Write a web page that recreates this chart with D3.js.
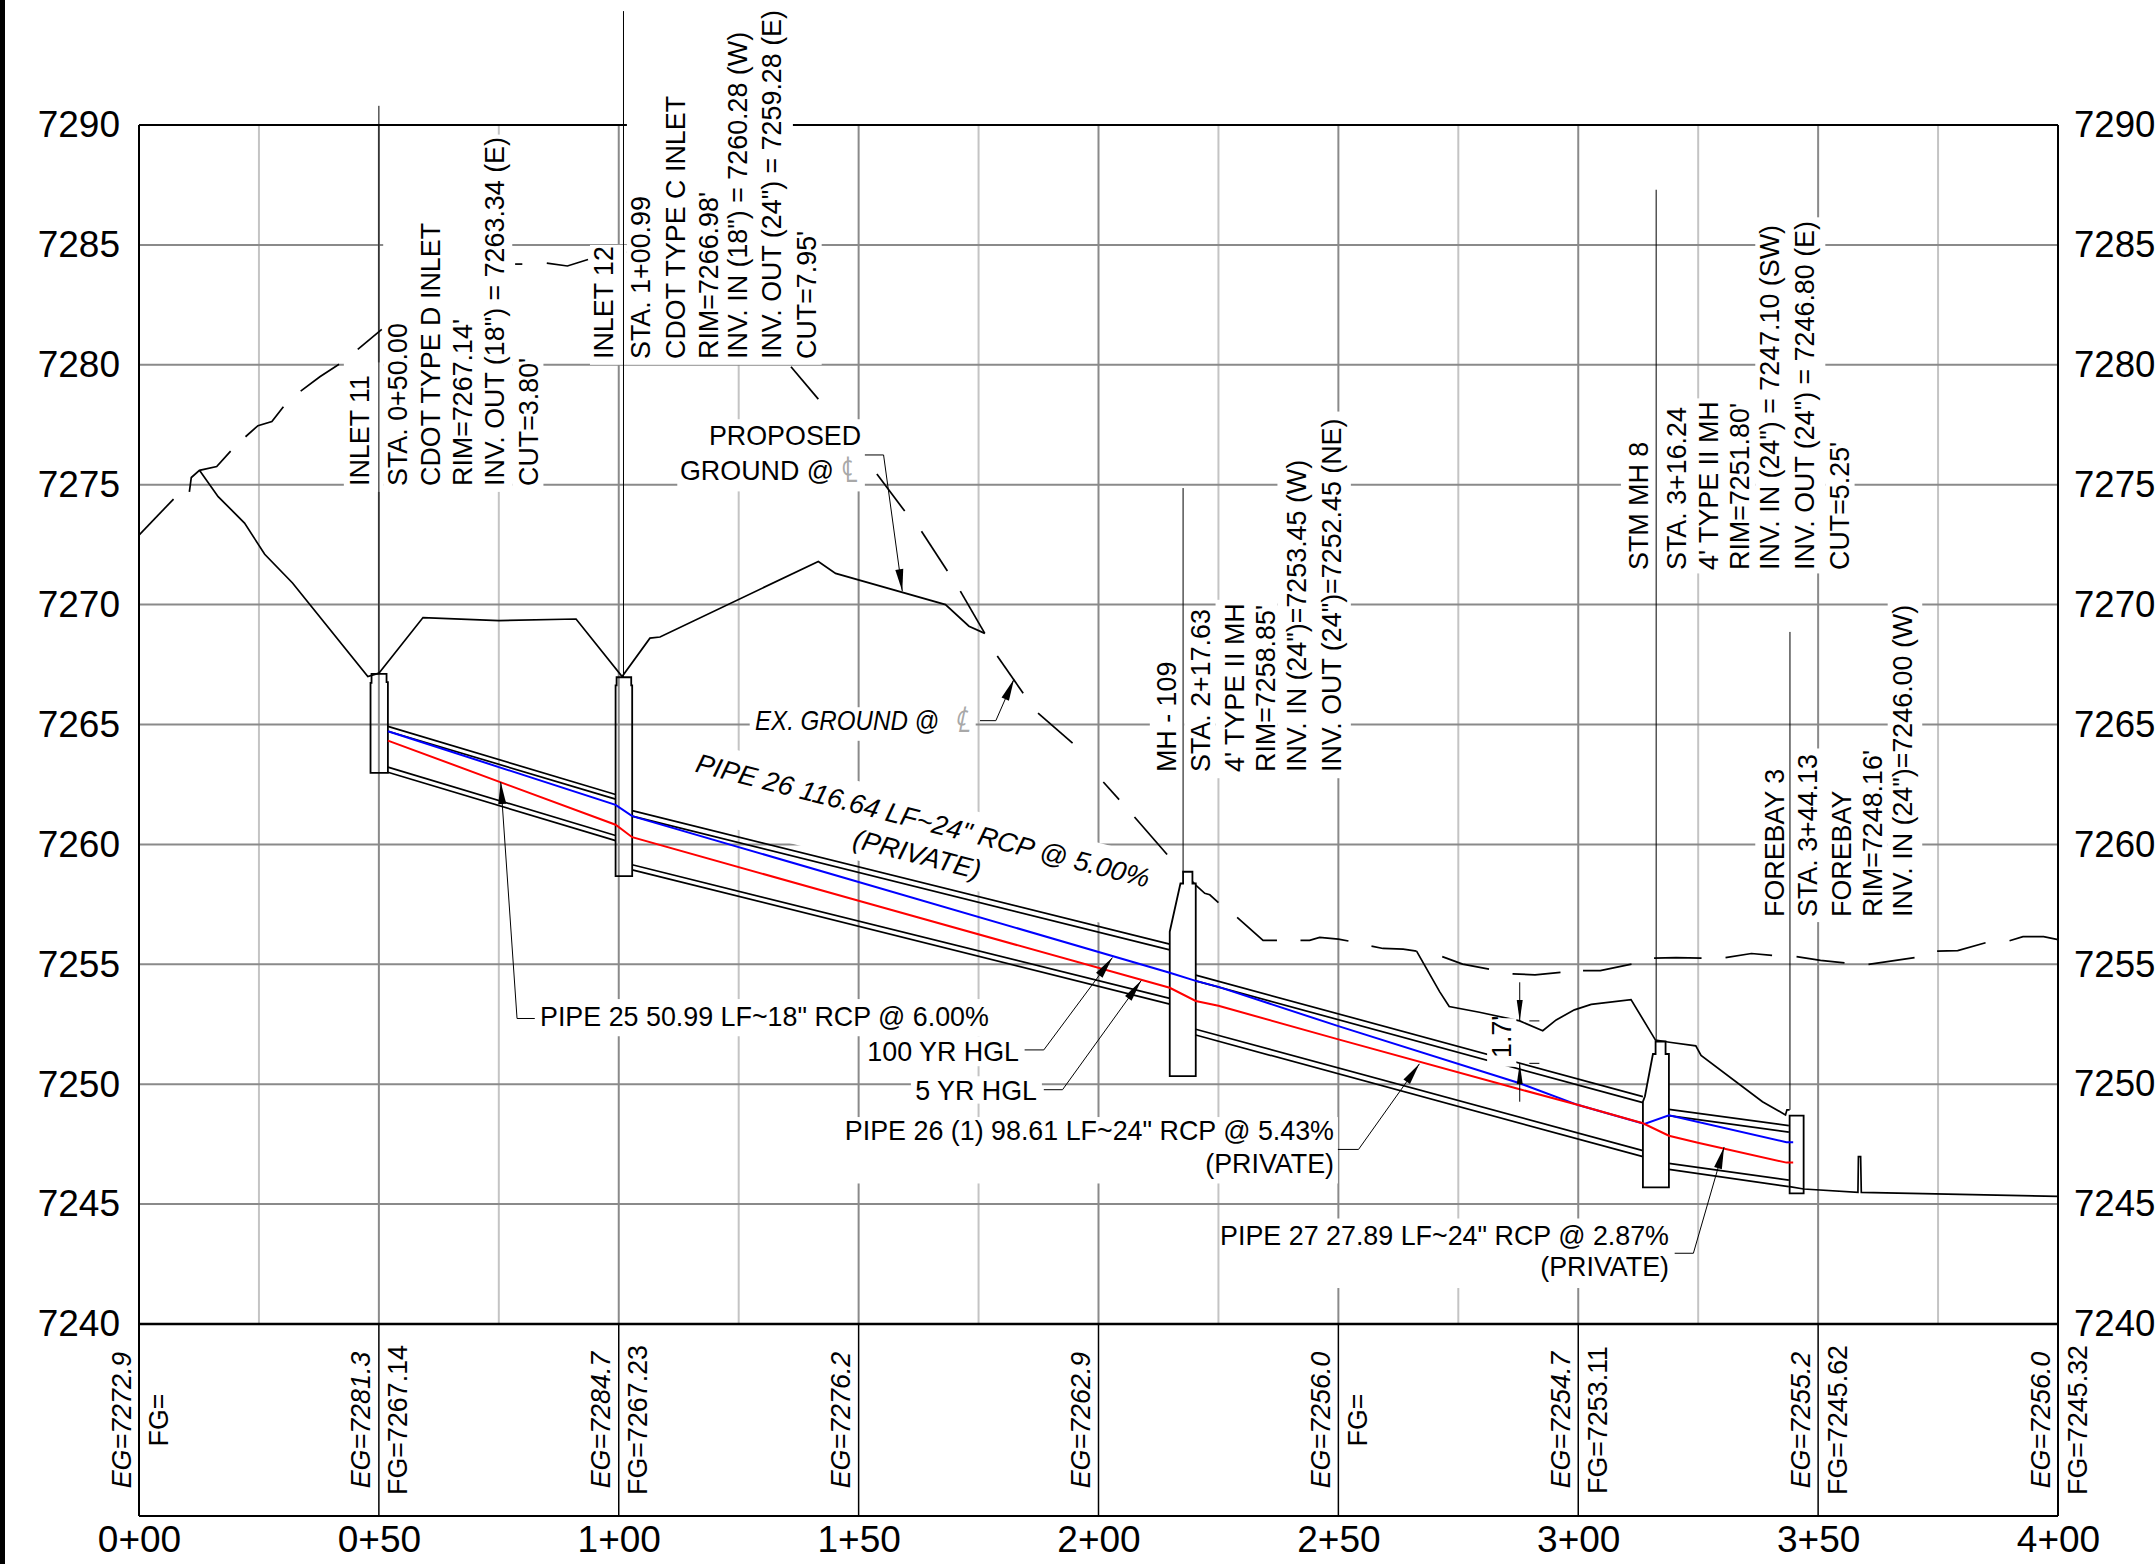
<!DOCTYPE html>
<html>
<head>
<meta charset="utf-8">
<title>Storm profile</title>
<script src="https://cdn.jsdelivr.net/npm/d3@7"></script>
<style>
  html, body { margin: 0; padding: 0; background: #fff; }
  svg { display: block; }
  text { font-family: "Liberation Sans", Arial, sans-serif; fill: #000; }
</style>
</head>
<body>
<svg></svg>
<script>
// axis values
const elevTicks = [7240, 7245, 7250, 7255, 7260, 7265, 7270, 7275, 7280, 7285, 7290];
const stationTicks = [0, 50, 100, 150, 200, 250, 300, 350, 400];
const stationMinor = [25, 75, 125, 175, 225, 275, 325, 375];

// station readouts under the profile, null where the band shows no FG note
const egLabels = ['7272.9', '7281.3', '7284.7', '7276.2', '7262.9', '7256.0', '7254.7', '7255.2', '7256.0'];
const fgLabels = ['', '7267.14', '7267.23', null, null, '', '7253.11', '7245.62', '7245.32'];

// existing ground, one list per visible dash, [station, elevation]
const exGroundRuns = [
  [[0,7272.9],[7.2,7274.4]],
  [[10.5,7274.7],[10.9,7275.3],[12.6,7275.6],[16.2,7275.76],[19.1,7276.4]],
  [[22.2,7277],[24.8,7277.46],[27.7,7277.63],[30.1,7278.25]],
  [[33.7,7278.9],[37.7,7279.5],[41.7,7280.02]],
  [[45.6,7280.64],[50.6,7281.48]],
  [[78.4,7284.2],[79.9,7284.2]],
  [[85,7284.24],[89.3,7284.12],[93.6,7284.39]],
  [[100,7284.66],[101.7,7284.7]],
  [[135.9,7279.92],[141.6,7278.57]],
  [[153.8,7275.45],[159.6,7273.9]],
  [[163.1,7273.06],[168.5,7271.4]],
  [[171.2,7270.56],[176.3,7268.8]],
  [[178.9,7267.86],[184.3,7266.3]],
  [[187.4,7265.47],[194.6,7264.22]],
  [[201,7262.6],[204.3,7261.87]],
  [[207.5,7261.14],[214.3,7259.58]],
  [[217.63,7258.86],[220.27,7258.3],[222.15,7257.96],[223.2,7257.9],[225,7257.57]],
  [[228.9,7256.96],[234.3,7256],[237.2,7256]],
  [[242.1,7256],[244,7256],[246.1,7256.12],[250,7256.05],[252.1,7255.97]],
  [[256.9,7255.76],[259.3,7255.66],[263.5,7255.63],[266.3,7255.55]],
  [[271.65,7255.32],[275.9,7255.01],[281.4,7254.8]],
  [[286.3,7254.6],[291,7254.56],[296.3,7254.66]],
  [[301,7254.74],[304.6,7254.74],[311.1,7255.01]],
  [[315.8,7255.26],[320.4,7255.28],[325.7,7255.26]],
  [[330.7,7255.28],[336.1,7255.45],[340.4,7255.37]],
  [[345.5,7255.32],[350.5,7255.16],[355.5,7255.06]],
  [[360.5,7255],[370.1,7255.28]],
  [[374.8,7255.55],[379.1,7255.57],[384.9,7255.9]],
  [[389.9,7255.98],[392.7,7256.15],[397,7256.15],[400,7256.03]]
];

// proposed ground
const proposedWest = [[12.6,7275.6],[16.5,7274.5],[19,7274],[22,7273.4],[26.2,7272.1],[32,7270.9],[47.7,7267],[50,7267.14],
  [59.2,7269.46],[75,7269.33],[91.1,7269.4],[100.7,7267],[106.5,7268.6],[108.6,7268.65],[141.6,7271.8],[145.2,7271.3],
  [168.1,7270],[173,7269.1],[176.3,7268.8]];
const proposedEast = [[266.3,7255.55],[271.1,7253.86],[273.1,7253.24],[279.4,7253],[287.8,7252.64],[292.6,7252.23],[295.4,7252.68],
  [299.2,7253.1],[302.7,7253.33],[311,7253.53],[316.1,7251.84],[319,7251.75],[324.5,7251.6],[325.6,7251.2],[338.4,7249.27],
  [343.2,7248.72],[343.5,7248.93],[344.06,7248.93]];
const outfallGround = [[344.06,7245.73],[346.98,7245.63],[358.3,7245.49],[358.4,7246.98],[358.86,7246.98],[359,7245.49],[400,7245.32]];

// hydraulic grade lines
const hgl100 = [[51.88,7264.72],[99.34,7261.65],[102.8,7261.18],[150,7258.43],[214.85,7254.65],[220.27,7254.31],[225,7254.06],
  [250,7252.42],[287.8,7250.04],[300,7249.13],[313.8,7248.34],[318.9,7248.7],[343.4,7247.58],[344.8,7247.58]];
const hgl5 = [[51.88,7264.33],[99.34,7260.82],[102.8,7260.3],[150,7257.65],[214.85,7254.02],[220.27,7253.47],[225,7253.27],
  [250,7251.87],[287.8,7249.79],[300,7249.13],[313.48,7248.37],[318.9,7247.85],[324.95,7247.56],[343.4,7246.73],[344.8,7246.73]];

// pipe walls
const pipe25 = [[[51.88,7264.92],[99.34,7262.08]],[[51.88,7264.72],[99.34,7261.89]],[[51.88,7263.22],[99.34,7260.37]],[[51.88,7263.01],[99.34,7260.16]]];
const pipe26 = [[[102.8,7261.41],[214.85,7255.84]],[[102.8,7261.18],[214.85,7255.6]],[[102.8,7259.15],[214.85,7253.58]],[[102.8,7258.94],[214.85,7253.34]]];
const pipe26b = [[[220.27,7254.55],[313.48,7249.48]],[[220.27,7254.31],[313.48,7249.23]],[[220.27,7252.29],[313.48,7247.23]],[[220.27,7252.05],[313.48,7246.98]]];
const pipe27 = [[[318.9,7248.95],[343.9,7248.27]],[[318.9,7248.69],[343.9,7248]],[[318.9,7246.7],[343.9,7246]],[[318.9,7246.45],[343.9,7245.73]]];

// structures
const inlet11 = [[48.26,7262.98],[48.26,7266.74],[48.47,7266.74],[48.47,7267.11],[51.6,7267.11],[51.6,7266.77],[51.88,7266.77],[51.88,7262.98]];
const inlet12 = [[99.34,7258.68],[99.34,7266.63],[99.55,7266.63],[99.55,7266.97],[102.6,7266.97],[102.6,7266.63],[102.8,7266.63],[102.8,7258.68]];
const mh109 = [[214.85,7250.34],[214.85,7256.36],[217.08,7258.37],[217.63,7258.37],[217.63,7258.86],[219.58,7258.86],[219.58,7258.37],[220.27,7258.37],[220.27,7250.34]];
const mh8 = [[313.48,7245.7],[313.48,7249.27],[313.9,7249.5],[315.57,7251.26],[316.12,7251.26],[316.12,7251.78],[318.2,7251.78],[318.2,7251.26],[318.9,7251.26],[318.9,7245.7]];
const forebay = [[344.06,7248.69],[346.98,7248.69],[346.98,7245.45],[344.06,7245.45]];

// structure leader lines, station and top elevation
const leaderStations = [50, 100.99, 217.63, 316.24, 344.13];
const leaderTops = [7290.8, 7294.75, 7274.86, 7287.3, 7268.86];
const leaderBottoms = [7267.11, 7266.97, 7258.86, 7251.78, 7248.93];

// callout texts
const inlet11Text = ['INLET 11', 'STA. 0+50.00', 'CDOT TYPE D INLET', "RIM=7267.14'", 'INV. OUT (18") = 7263.34 (E)', "CUT=3.80'"];
const inlet12Text = ['INLET 12', 'STA. 1+00.99', 'CDOT TYPE C INLET', "RIM=7266.98'", 'INV. IN (18") = 7260.28 (W)', 'INV. OUT (24") = 7259.28 (E)', "CUT=7.95'"];
const mh109Text = ['MH - 109', 'STA. 2+17.63', "4' TYPE II MH", "RIM=7258.85'", 'INV. IN (24")=7253.45 (W)', 'INV. OUT (24")=7252.45 (NE)'];
const mh8Text = ['STM MH 8', 'STA. 3+16.24', "4' TYPE II MH", "RIM=7251.80'", 'INV. IN (24") = 7247.10 (SW)', 'INV. OUT (24") = 7246.80 (E)', "CUT=5.25'"];
const forebayText = ['FOREBAY 3', 'STA. 3+44.13', 'FOREBAY', "RIM=7248.16'", 'INV. IN (24")=7246.00 (W)'];

const width = 2156, height = 1564;
const plotL = 139, plotR = 2058, plotT = 125, plotB = 1324, bandB = 1516;

const svg = d3.select('svg').attr('width', width).attr('height', height).attr('viewBox', `0 0 ${width} ${height}`);

const x = d3.scaleLinear().domain([0, 400]).range([plotL, plotR]);
const y = d3.scaleLinear().domain([7240, 7290]).range([plotB, plotT]);
const line = d3.line().x((d) => x(d[0])).y((d) => y(d[1]));

const drawLine = (pts, color, w) =>
  svg.append('path').attr('d', line(pts)).attr('fill', 'none').attr('stroke', color).attr('stroke-width', w);

// sheet edge
svg.append('rect').attr('x', 0).attr('y', 0).attr('width', 5).attr('height', height).attr('fill', '#000');

// grid
svg.append('g').selectAll('line').data(stationMinor).join('line')
  .attr('x1', (d) => x(d)).attr('x2', (d) => x(d)).attr('y1', plotT).attr('y2', plotB)
  .attr('stroke', '#c4c4c4').attr('stroke-width', 2);
svg.append('g').selectAll('line').data(stationTicks).join('line')
  .attr('x1', (d) => x(d)).attr('x2', (d) => x(d)).attr('y1', plotT).attr('y2', plotB)
  .attr('stroke', '#8a8a8a').attr('stroke-width', 2);
svg.append('g').selectAll('line').data(elevTicks).join('line')
  .attr('x1', plotL).attr('x2', plotR).attr('y1', (d) => y(d)).attr('y2', (d) => y(d))
  .attr('stroke', '#8a8a8a').attr('stroke-width', 2);

// frame
svg.append('line').attr('x1', plotL).attr('x2', plotR).attr('y1', plotT).attr('y2', plotT).attr('stroke', '#000').attr('stroke-width', 2.2);
svg.append('line').attr('x1', plotL).attr('x2', plotL).attr('y1', plotT).attr('y2', bandB).attr('stroke', '#000').attr('stroke-width', 2);
svg.append('line').attr('x1', plotR).attr('x2', plotR).attr('y1', plotT).attr('y2', bandB).attr('stroke', '#000').attr('stroke-width', 2);
svg.append('line').attr('x1', plotL).attr('x2', plotR).attr('y1', plotB).attr('y2', plotB).attr('stroke', '#000').attr('stroke-width', 2.6);
svg.append('line').attr('x1', plotL).attr('x2', plotR).attr('y1', bandB).attr('y2', bandB).attr('stroke', '#000').attr('stroke-width', 2.2);
svg.append('g').selectAll('line').data(stationTicks).join('line')
  .attr('x1', (d) => x(d)).attr('x2', (d) => x(d)).attr('y1', plotB).attr('y2', bandB)
  .attr('stroke', '#000').attr('stroke-width', 1.5);

// existing ground, sits under the text wipeouts
exGroundRuns.forEach((run) => drawLine(run, '#000', 1.7));

// text wipeouts: [sta0, sta1, elevTop, elevBottom]
const wipeouts = [
  [42.7,50.9,7280.1,7274.7],[50.9,77.8,7289.6,7274.7],[77.8,84.3,7280.1,7274.7],
  [94,101.7,7285,7280],[101.7,136.3,7295.2,7280],[136.3,142.3,7285.4,7280],
  [118.7,151.3,7277.73,7276.28],[112.2,151.3,7276.28,7274.72],
  [127.3,174.4,7265.72,7264.32],
  [82.8,177.4,7253.55,7252],[151.3,184.2,7252,7250.75],[160.9,188.2,7250.33,7249.19],
  [146.6,249.9,7248.63,7245.86],[225.4,319.7,7244.4,7241.5],
  [210.7,217.9,7267.65,7262.76],[217.9,224.4,7269.7,7262.76],[224.4,237.3,7270.2,7262.76],[237.3,252.6,7278.05,7262.76],
  [308.9,336.9,7276.7,7271.3],[317.5,336.9,7278.6,7276.7],[336.9,351.5,7286.15,7271.3],[351.5,357.6,7276.7,7271.3],
  [336.9,364.5,7264,7256.76],[364.5,371.7,7270.15,7256.76]
];
svg.append('g').selectAll('rect').data(wipeouts).join('rect')
  .attr('x', (d) => x(d[0])).attr('width', (d) => x(d[1]) - x(d[0]))
  .attr('y', (d) => y(d[2])).attr('height', (d) => y(d[3]) - y(d[2]))
  .attr('fill', '#fff');
// sloped wipeout under the pipe 26 note
svg.append('rect').attr('x', -240).attr('y', -22).attr('width', 480).attr('height', 77).attr('fill', '#fff')
  .attr('transform', `translate(${x(163.4)},${y(7261)}) rotate(14.4)`);

// ground lines
drawLine(proposedWest, '#000', 1.7);
drawLine(proposedEast, '#000', 1.7);
drawLine(outfallGround, '#000', 1.7);

// pipes
[pipe25, pipe26, pipe26b, pipe27].forEach((pipe) => pipe.forEach((wall) => drawLine(wall, '#000', 1.7)));

// gap cut for the 1.7' dimension
svg.append('rect').attr('x', x(281)).attr('width', x(287.1) - x(281))
  .attr('y', y(7252.75)).attr('height', y(7250.73) - y(7252.75)).attr('fill', '#fff');

// structures
svg.append('path').attr('d', line(inlet11) + 'Z').attr('fill', 'none').attr('stroke', '#000').attr('stroke-width', 1.8);
svg.append('path').attr('d', line(inlet12) + 'Z').attr('fill', 'none').attr('stroke', '#000').attr('stroke-width', 1.8);
svg.append('path').attr('d', line(mh109) + 'Z').attr('fill', '#fff').attr('stroke', '#000').attr('stroke-width', 1.8);
svg.append('path').attr('d', line(mh8) + 'Z').attr('fill', '#fff').attr('stroke', '#000').attr('stroke-width', 1.8);
svg.append('path').attr('d', line(forebay) + 'Z').attr('fill', '#fff').attr('stroke', '#000').attr('stroke-width', 1.8);
drawLine(outfallGround.slice(0, 2), '#000', 1.7);

// hgl
drawLine(hgl100, '#0000ff', 2);
drawLine(hgl5, '#ff0000', 2);

// structure leaders
svg.append('g').selectAll('line').data(leaderStations).join('line')
  .attr('x1', (d) => x(d)).attr('x2', (d) => x(d))
  .attr('y1', (d, i) => y(leaderTops[i])).attr('y2', (d, i) => y(leaderBottoms[i]))
  .attr('stroke', '#000').attr('stroke-width', 1);

// callout leaders: polyline ends in an arrow head at its last point
function arrowLeader(pts, len = 22, half = 4) {
  drawLine(pts, '#000', 1);
  const tip = pts[pts.length - 1], from = pts[pts.length - 2];
  const tx = x(tip[0]), ty = y(tip[1]);
  const ang = Math.atan2(y(from[1]) - ty, x(from[0]) - tx);
  const bx = tx + len * Math.cos(ang), by = ty + len * Math.sin(ang);
  const nx = -Math.sin(ang) * half, ny = Math.cos(ang) * half;
  svg.append('path')
    .attr('d', `M${tx},${ty}L${bx + nx},${by + ny}L${bx - nx},${by - ny}Z`)
    .attr('fill', '#000');
}
arrowLeader([[151.3,7276.24],[155.2,7276.24],[159.1,7270.56]]);
arrowLeader([[175.3,7265.16],[178.6,7265.16],[182.4,7266.9]]);
arrowLeader([[82.5,7252.74],[78.8,7252.74],[75.4,7262.6]]);
arrowLeader([[184.6,7251.43],[188.6,7251.43],[202.9,7255.28]]);
arrowLeader([[188.6,7249.77],[192.5,7249.77],[208.9,7254.32]]);
arrowLeader([[249.9,7247.28],[254.2,7247.28],[266.9,7250.85]]);
arrowLeader([[320.1,7242.95],[324,7242.95],[330.4,7247.38]]);

// 1.7' dimension
arrowLeader([[287.8,7254.25],[287.8,7252.64]], 21, 3);
arrowLeader([[287.8,7249.27],[287.8,7250.87]], 21, 3);
drawLine([[289.8,7252.64],[291.9,7252.64]], '#000', 1);
drawLine([[289.8,7250.87],[291.9,7250.87]], '#000', 1);

// axes
const axisFont = (size) => (g) => {
  g.select('.domain').remove();
  g.selectAll('.tick line').remove();
  g.attr('font-family', null).attr('font-size', null);
  g.selectAll('text').attr('font-size', size).attr('fill', '#000');
};
svg.append('g').attr('transform', `translate(${plotL},0)`)
  .call(d3.axisLeft(y).tickValues(elevTicks).tickFormat(d3.format('d')).tickSize(0).tickPadding(19)).call(axisFont(37));
svg.append('g').attr('transform', `translate(${plotR},0)`)
  .call(d3.axisRight(y).tickValues(elevTicks).tickFormat(d3.format('d')).tickSize(0).tickPadding(16)).call(axisFont(36.6));
const stationFormat = (d) => `${Math.floor(d / 100)}+${String(d % 100).padStart(2, '0')}`;
svg.append('g').attr('transform', `translate(0,${bandB})`)
  .call(d3.axisBottom(x).tickValues(stationTicks).tickFormat(stationFormat).tickSize(0).tickPadding(10)).call(axisFont(37));

// text helpers
const fs = 26.85;
function vText(px, py, str, anchor = 'start', italic = false) {
  svg.append('text').attr('transform', `translate(${px},${py}) rotate(-90)`)
    .attr('font-size', fs).attr('text-anchor', anchor)
    .attr('font-style', italic ? 'italic' : null).text(str);
}
function hText(px, py, str, anchor = 'start', italic = false) {
  return svg.append('text').attr('x', px).attr('y', py)
    .attr('font-size', fs).attr('text-anchor', anchor)
    .attr('font-style', italic ? 'italic' : null).text(str);
}

// structure notes
[
  [inlet11Text, [368.5, 406.5, 439.5, 471.5, 503.5, 537.5], 486],
  [inlet12Text, [612.5, 650, 684.5, 717.6, 746.5, 780.5, 815.5], 359],
  [mh109Text, [1175.5, 1210, 1244, 1275, 1305.5, 1340.5], 772],
  [mh8Text, [1648, 1685.5, 1718, 1749, 1778.5, 1814, 1848.5], 570],
  [forebayText, [1783.5, 1816.5, 1850.5, 1881.5, 1911.5], 917]
].forEach(([lines, xs, bottom]) => lines.forEach((s, i) => vText(xs[i], bottom, s)));

// band readouts
const bandMid = 1420;
stationTicks.forEach((d, i) => {
  vText(x(d) - 8.5, bandMid, 'EG=' + egLabels[i], 'middle', true);
  if (fgLabels[i] !== null) vText(x(d) + 28.5, bandMid, 'FG=' + fgLabels[i], 'middle');
});

// notes
hText(785, 445, 'PROPOSED', 'middle');
hText(834, 480, 'GROUND @', 'end');
hText(755, 730, 'EX. GROUND @', 'start', true).attr('font-size', 27.5)
  .attr('textLength', 184).attr('lengthAdjust', 'spacingAndGlyphs');

// centre line marks next to the ground notes
const centreMark = (px, py, skew) =>
  svg.append('text').attr('transform', `translate(${px},${py}) skewX(${skew}) scale(0.8,1.05)`)
    .attr('text-anchor', 'middle').attr('font-size', 34).attr('font-weight', 200)
    .style('font-family', '"DejaVu Sans"').style('fill', '#a8a8a8').text('\u2104');
centreMark(850, 482, 0);
centreMark(962, 732, -12);

hText(540, 1025.6, 'PIPE 25 50.99 LF~18" RCP @ 6.00%');
hText(1019, 1060.6, '100 YR HGL', 'end');
hText(1037, 1099.6, '5 YR HGL', 'end');
hText(1334, 1139.7, 'PIPE 26 (1) 98.61 LF~24" RCP @ 5.43%', 'end');
hText(1334, 1172.8, '(PRIVATE)', 'end');
hText(1669, 1244.6, 'PIPE 27 27.89 LF~24" RCP @ 2.87%', 'end');
hText(1669, 1275.6, '(PRIVATE)', 'end');

// sloped pipe note
svg.append('text').attr('transform', `translate(${x(163.4)},${y(7261)}) rotate(14.4)`)
  .attr('text-anchor', 'middle').attr('dy', '0.35em').attr('font-size', 27.2).attr('font-style', 'italic')
  .text('PIPE 26 116.64 LF~24" RCP @ 5.00%');
svg.append('text').attr('transform', `translate(${x(162.2)},${y(7259.6)}) rotate(14.4)`)
  .attr('text-anchor', 'middle').attr('dy', '0.35em').attr('font-size', 27.2).attr('font-style', 'italic')
  .text('(PRIVATE)');

// dimension value
vText(1510.7, 1058, "1.7'");
</script>
</body>
</html>
